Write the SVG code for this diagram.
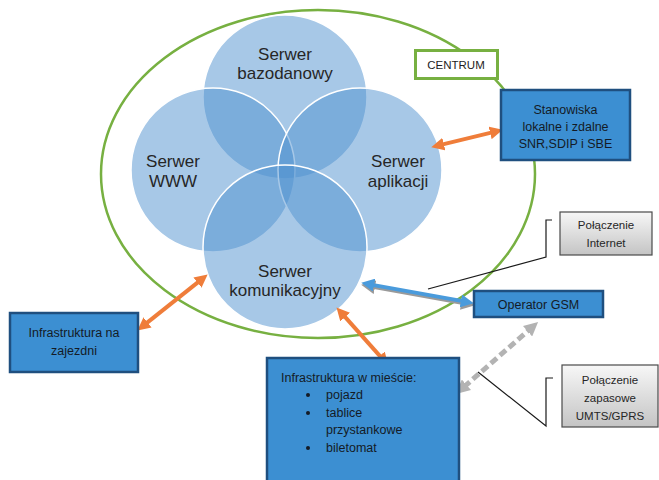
<svg xmlns="http://www.w3.org/2000/svg" width="659" height="480" viewBox="0 0 659 480">
<style>
.t{font-family:"Liberation Sans",Arial,sans-serif;fill:#1e1e1e}
.ct{font-size:17px;text-anchor:middle;fill:#262626}
.bt{font-size:12.5px;fill:#141b26}
.gt{font-size:11.5px;fill:#262626;text-anchor:middle}
.circ{fill:#4f92d0;fill-opacity:0.5;stroke:#ffffff;stroke-width:1.5}
.bbox{fill:#3c8fd2;stroke:#1f4f7f;stroke-width:2.5}
.gbox{fill:url(#gg);stroke:#4a4a4a;stroke-width:1.2}
.or{stroke:#ef7d3a;stroke-width:4;fill:none;marker-start:url(#ho);marker-end:url(#ho)}
.bl{stroke:#4a9bdc;stroke-width:4;fill:none;marker-start:url(#hb);marker-end:url(#hb)}
.blsh{stroke:#9a9a9a;stroke-width:4;fill:none;marker-start:url(#hs);marker-end:url(#hs)}
.gd{stroke:#b3b3b3;stroke-width:5;stroke-dasharray:8 4;fill:none;marker-start:url(#hg);marker-end:url(#hg)}
.call{stroke:#1a1a1a;stroke-width:1.2;fill:none}
</style>
<defs>
<linearGradient id="gg" x1="0" y1="0" x2="0" y2="1">
<stop offset="0" stop-color="#f7f7f7"/>
<stop offset="1" stop-color="#c4c4c4"/>
</linearGradient>
<marker id="ho" viewBox="0 0 12 12" refX="3" refY="6" markerWidth="13" markerHeight="13" markerUnits="userSpaceOnUse" orient="auto-start-reverse"><path d="M0,0 L12,6 L0,12 Z" fill="#ef7d3a"/></marker>
<marker id="hb" viewBox="0 0 12 12" refX="3" refY="6" markerWidth="13" markerHeight="13" markerUnits="userSpaceOnUse" orient="auto-start-reverse"><path d="M0,0 L12,6 L0,12 Z" fill="#4a9bdc"/></marker>
<marker id="hs" viewBox="0 0 12 12" refX="3" refY="6" markerWidth="14" markerHeight="14" markerUnits="userSpaceOnUse" orient="auto-start-reverse"><path d="M0,0 L12,6 L0,12 Z" fill="#9a9a9a"/></marker>
<marker id="hg" viewBox="0 0 12 12" refX="3" refY="6" markerWidth="14" markerHeight="14" markerUnits="userSpaceOnUse" orient="auto-start-reverse"><path d="M0,0 L12,6 L0,12 Z" fill="#b3b3b3"/></marker>
</defs>
<rect width="659" height="480" fill="#ffffff"/>
<g id="centrum-boundary">
<ellipse cx="318" cy="174" rx="217" ry="164" fill="none" stroke="#77b041" stroke-width="2.5"/>
</g>
<g id="serwer-bazodanowy">
<circle class="circ" cx="285" cy="97" r="82"/>
</g>
<g id="serwer-www">
<circle class="circ" cx="213" cy="170" r="82"/>
</g>
<g id="serwer-aplikacji">
<circle class="circ" cx="360" cy="170" r="82"/>
</g>
<g id="serwer-komunikacyjny">
<circle class="circ" cx="285" cy="247" r="82"/>
</g>
<g id="circle-labels">
<text class="t ct" x="285" y="60">Serwer</text>
<text class="t ct" x="285" y="79">bazodanowy</text>
<text class="t ct" x="173" y="167">Serwer</text>
<text class="t ct" x="173" y="187">WWW</text>
<text class="t ct" x="398" y="167">Serwer</text>
<text class="t ct" x="398" y="187">aplikacji</text>
<text class="t ct" x="285" y="277">Serwer</text>
<text class="t ct" x="285" y="296">komunikacyjny</text>
</g>
<g id="connectors">
<path class="call" d="M552,220 H546 V257 L428,289"/>
<path class="call" d="M553,378 H546 V426 L478,372"/>
<path class="or" d="M440.7,144.9 L493.3,132.1"/>
<path class="or" d="M145,324.4 L200,280.6"/>
<path class="or" d="M343,314.7 L382,358.3"/>
<path class="blsh" d="M371.5,286.6 L464.7,303.4"/>
<path class="bl" d="M370.9,284.6 L464.1,301.4"/>
<path class="gd" d="M463.8,387.1 L530.2,328.9"/>
</g>
<g id="centrum">
<rect x="415.5" y="50.5" width="82" height="28" fill="#ffffff" stroke="#77b041" stroke-width="3"/>
<text class="t" x="456" y="69" font-size="11.5" text-anchor="middle" fill="#262626">CENTRUM</text>
</g>
<g id="stanowiska">
<rect class="bbox" x="501" y="90" width="129" height="70"/>
<text class="t bt" x="565.5" y="114" text-anchor="middle">Stanowiska</text>
<text class="t bt" x="565.5" y="131" text-anchor="middle">lokalne i zdalne</text>
<text class="t bt" x="565.5" y="148" text-anchor="middle">SNR,SDIP i SBE</text>
</g>
<g id="polaczenie-internet">
<rect class="gbox" x="560" y="212" width="92" height="43"/>
<text class="t gt" x="606" y="229">Połączenie</text>
<text class="t gt" x="606" y="247">Internet</text>
</g>
<g id="operator-gsm">
<rect class="bbox" x="474" y="291" width="129" height="26"/>
<text class="t bt" x="538.5" y="309" text-anchor="middle">Operator GSM</text>
</g>
<g id="infrastruktura-zajezdni">
<rect class="bbox" x="10" y="313" width="128" height="59"/>
<text class="t bt" x="74" y="337" text-anchor="middle">Infrastruktura na</text>
<text class="t bt" x="74" y="355" text-anchor="middle">zajezdni</text>
</g>
<g id="infrastruktura-miasto">
<rect class="bbox" x="267" y="358" width="192" height="130"/>
<text class="t bt" x="281" y="382">Infrastruktura w mieście:</text>
<circle cx="308" cy="395" r="2" fill="#141b26"/>
<text class="t bt" x="326" y="399">pojazd</text>
<circle cx="308" cy="413" r="2" fill="#141b26"/>
<text class="t bt" x="326" y="417">tablice</text>
<text class="t bt" x="326" y="434">przystankowe</text>
<circle cx="308" cy="448" r="2" fill="#141b26"/>
<text class="t bt" x="326" y="452">biletomat</text>
</g>
<g id="polaczenie-zapasowe">
<rect class="gbox" x="562" y="365" width="96" height="62"/>
<text class="t gt" x="610" y="384">Połączenie</text>
<text class="t gt" x="610" y="402">zapasowe</text>
<text class="t gt" x="610" y="420">UMTS/GPRS</text>
</g>
</svg>
